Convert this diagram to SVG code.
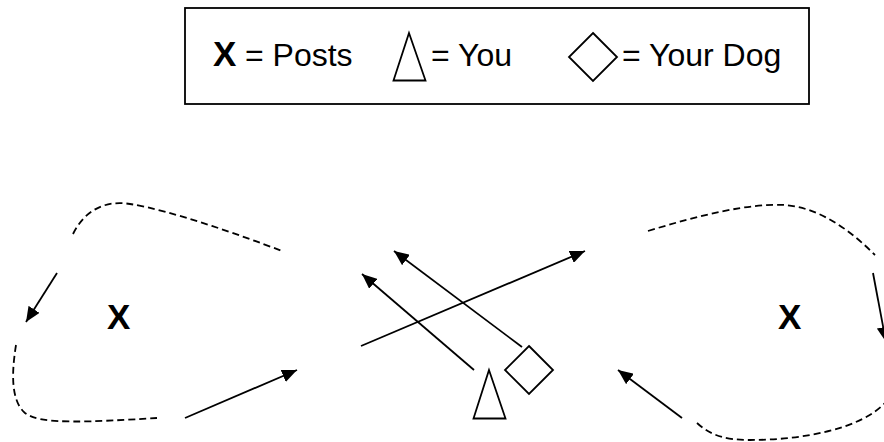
<svg xmlns="http://www.w3.org/2000/svg" width="884" height="442" viewBox="0 0 884 442">
<style>
.t{font-family:"Liberation Sans",Arial,sans-serif;font-size:32px;fill:#000}
.x{font-family:"Liberation Sans",Arial,sans-serif;font-size:35px;font-weight:bold;fill:#000}
.shape{fill:#fff;stroke:#000;stroke-width:1.8}
.arrow{fill:none;stroke:#000;stroke-width:1.8;marker-end:url(#ah)}
.dash{fill:none;stroke:#000;stroke-width:1.8;stroke-dasharray:7 4}
</style>
<defs>
<marker id="ah" viewBox="0 0 15 13" refX="15" refY="6.5" markerWidth="15" markerHeight="13" markerUnits="userSpaceOnUse" orient="auto">
<path d="M0,0 L15,6.5 L0,13 z" fill="#000"/>
</marker>
</defs>
<rect width="884" height="442" fill="#fff"/>
<g id="legend">
<rect x="185" y="8" width="624" height="96" fill="#fff" stroke="#000" stroke-width="1.8"/>
<text class="x" x="213" y="66">X</text>
<text class="t" x="245" y="66">= Posts</text>
<polygon class="shape" points="409,33 393.5,80.5 425.5,80.5"/>
<text class="t" x="431" y="66">= You</text>
<polygon class="shape" points="593,33 617,57 593,81 569,57"/>
<text class="t" x="622" y="66">= Your Dog</text>
</g>
<g id="post-left"><text class="x" x="107" y="329">X</text></g>
<g id="post-right"><text class="x" x="778" y="329">X</text></g>
<g id="you"><polygon class="shape" points="489,370 473.5,418.5 505.5,418.5"/></g>
<g id="dog"><polygon class="shape" points="529,346 553,370 529,394 505,370"/></g>
<g id="connectors">
<path class="dash" d="M73,234 C85,210 105,200 130,204 C170,210 240,235 282,251"/>
<path class="dash" d="M16,345 C12,370 10,400 25,413 C40,425 90,422 157,418"/>
<path class="dash" d="M648,231 C700,215 750,203 785,205 C820,208 850,230 875,255"/>
<path class="dash" d="M697,423 C710,435 725,440 750,440 C800,440 860,430 886,402"/>
<line class="arrow" x1="57" y1="273" x2="26" y2="322"/>
<line class="arrow" x1="185" y1="418" x2="297" y2="370"/>
<line class="arrow" x1="361" y1="346" x2="585" y2="251"/>
<line class="arrow" x1="474" y1="370" x2="362" y2="274"/>
<line class="arrow" x1="522" y1="347" x2="394" y2="251"/>
<line class="arrow" x1="682" y1="418" x2="618" y2="370"/>
<line class="arrow" x1="873" y1="273" x2="886" y2="342"/>
</g>
</svg>
